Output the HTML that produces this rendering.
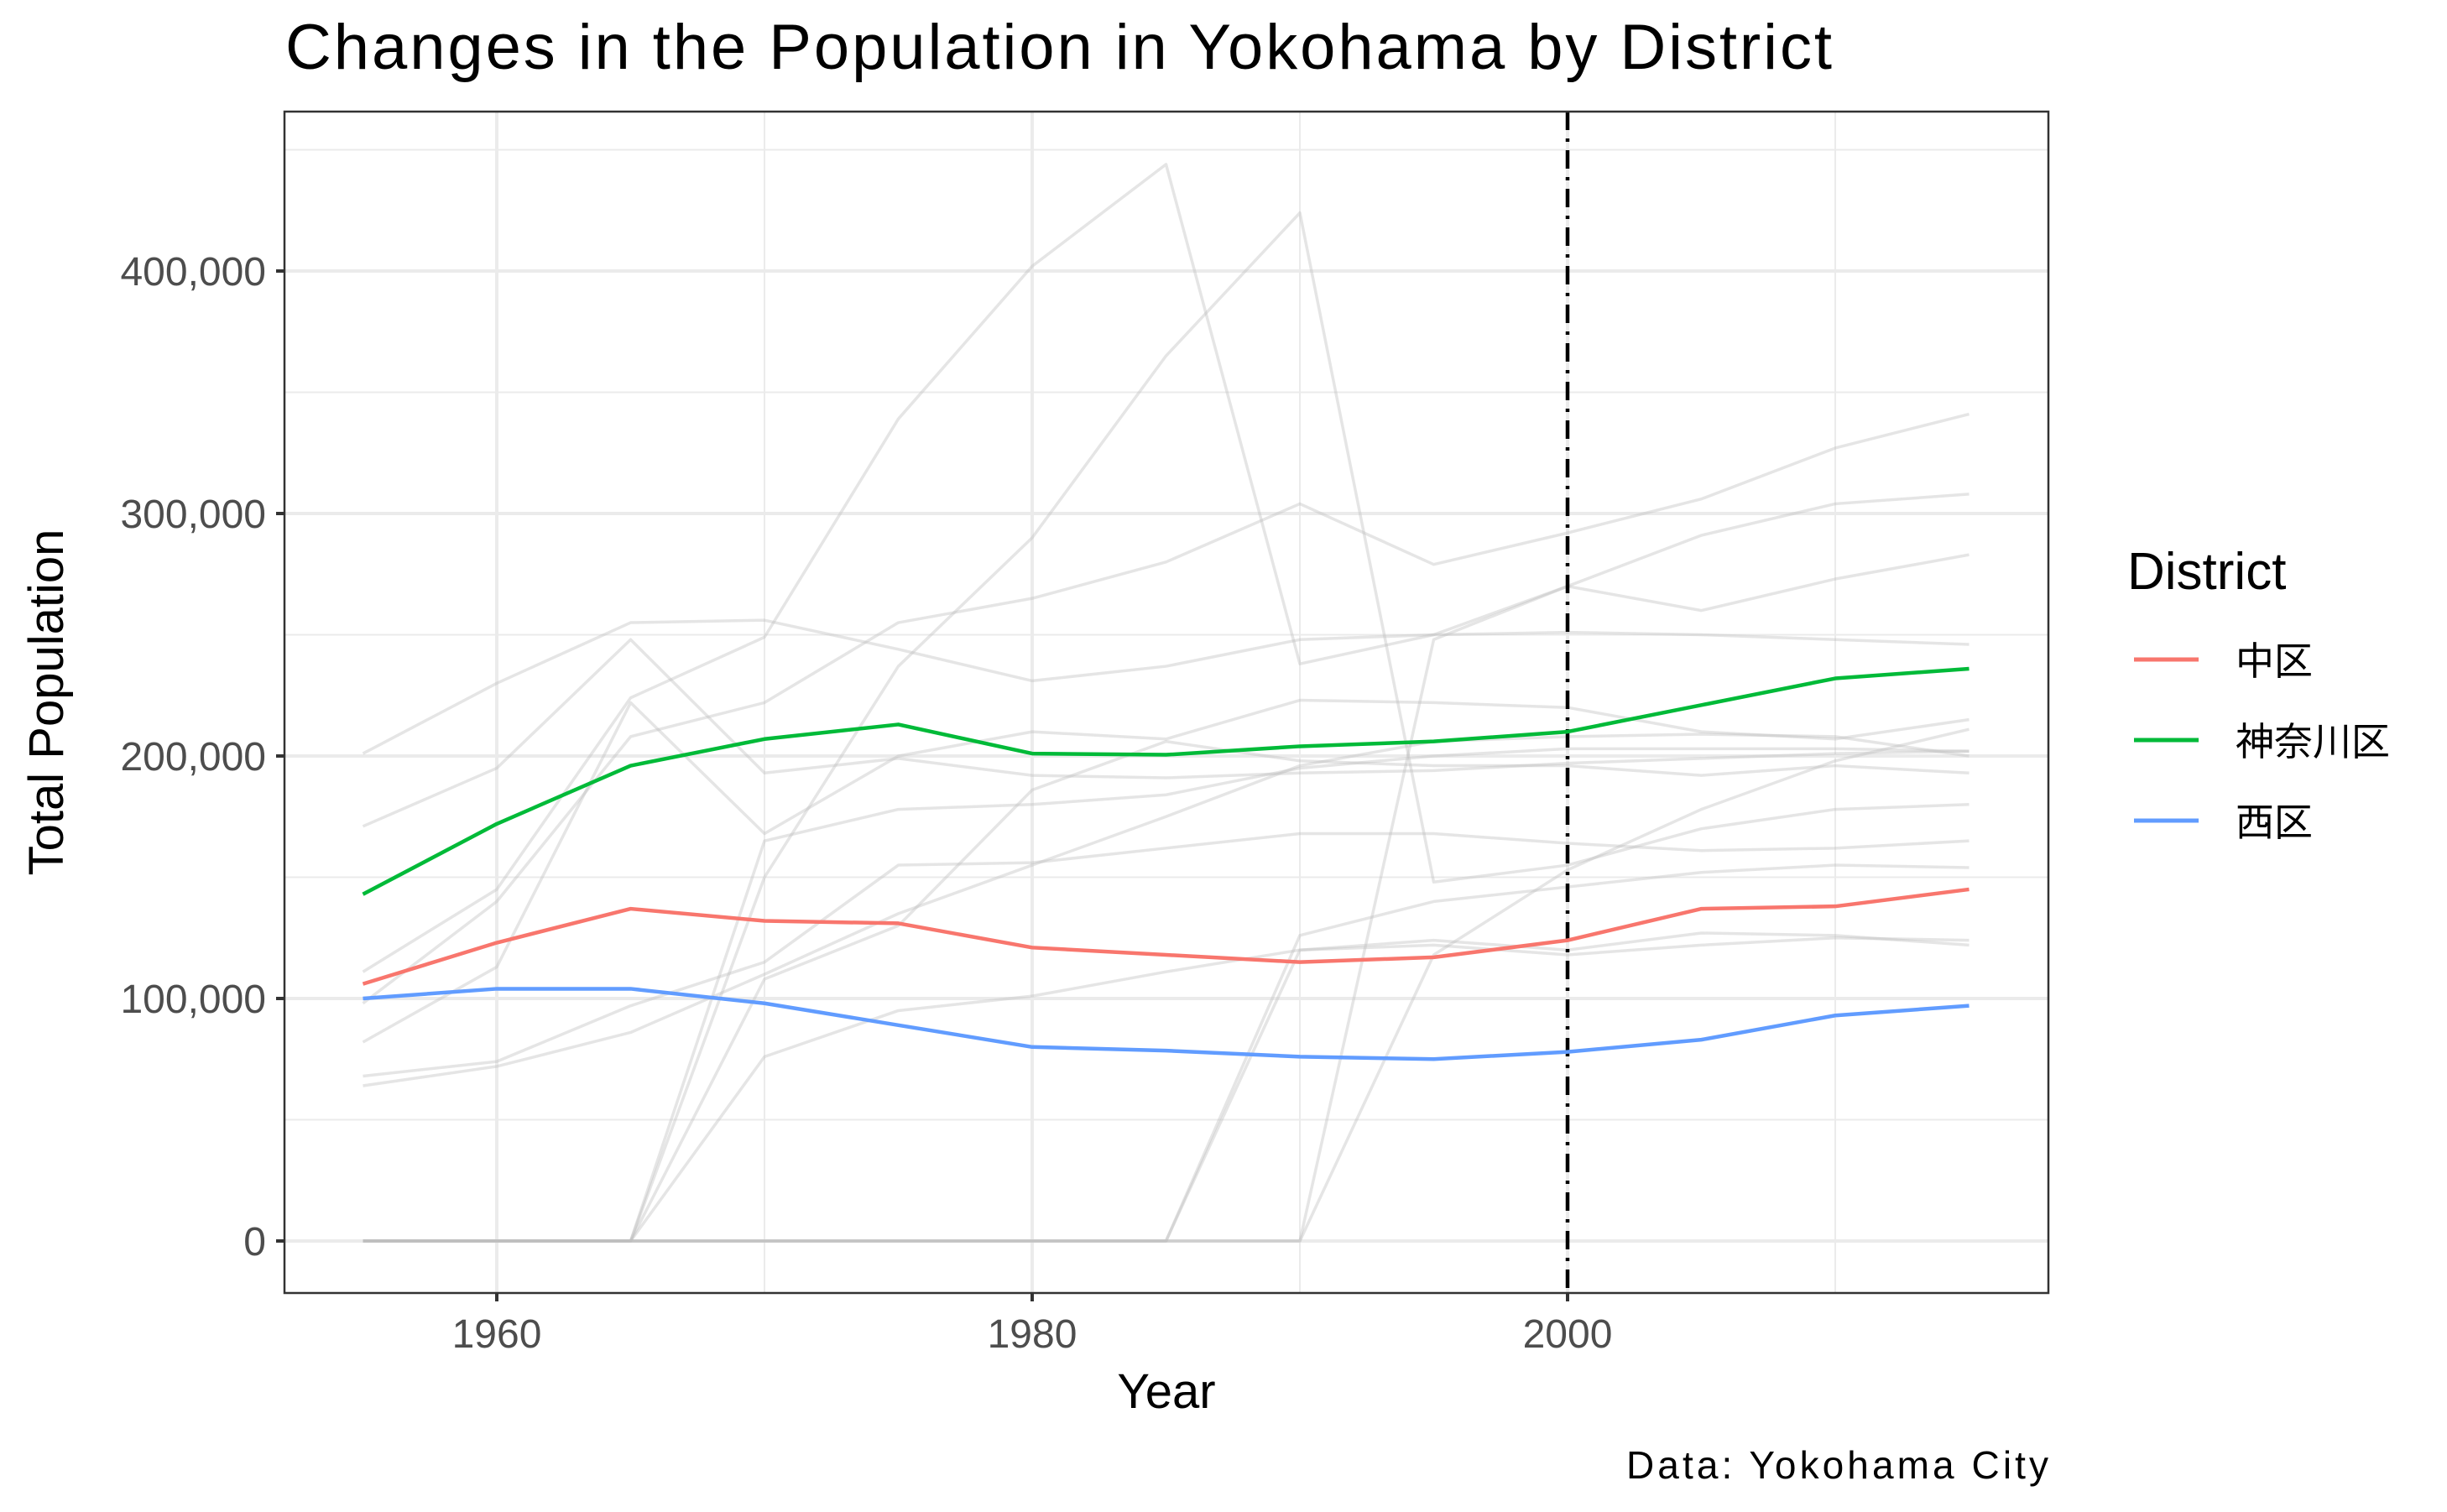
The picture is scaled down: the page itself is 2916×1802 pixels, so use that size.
<!DOCTYPE html>
<html><head><meta charset="utf-8"><style>
html,body{margin:0;padding:0;background:#fff;}
svg{display:block;font-family:"Liberation Sans","Noto Sans CJK JP",sans-serif;}
</style></head><body>
<svg id="chart" width="2916" height="1802" viewBox="0 0 2916 1802" xmlns="http://www.w3.org/2000/svg">
<rect width="2916" height="1802" fill="#fff"/>
<text x="340" y="82" font-size="76" fill="#000" textLength="1843" lengthAdjust="spacing">Changes in the Population in Yokohama by District</text>
<g id="grid"></g>
<g id="gray"></g>
<g id="vline"></g>
<g id="hl"></g>
<rect x="339" y="133" width="2102" height="1408" fill="none" stroke="#333" stroke-width="2.5"/>
<g id="axes"></g>
<text x="1390" y="1678" font-size="58" text-anchor="middle" fill="#000">Year</text>
<text transform="translate(75,837) rotate(-90)" font-size="58" text-anchor="middle" fill="#000">Total Population</text>
<text x="1938" y="1762" font-size="46" fill="#000" textLength="503" lengthAdjust="spacing">Data: Yokohama City</text>
<g>
<text x="2535" y="702" font-size="62" fill="#000">District</text>
<line x1="2543" y1="786" x2="2620" y2="786" stroke="#F8766D" stroke-width="5"/>
<text x="2664" y="788" font-size="46" dominant-baseline="central" fill="#000">中区</text>
<line x1="2543" y1="882" x2="2620" y2="882" stroke="#00BA38" stroke-width="5"/>
<text x="2664" y="884" font-size="46" dominant-baseline="central" fill="#000">神奈川区</text>
<line x1="2543" y1="978" x2="2620" y2="978" stroke="#619CFF" stroke-width="5"/>
<text x="2664" y="980" font-size="46" dominant-baseline="central" fill="#000">西区</text>
</g>
</svg>
<script>
const years = [1955,1960,1965,1970,1975,1980,1985,1990,1995,2000,2005,2010,2015];
const naka = [106,123,137,132,131,121,118,115,117,124,137,138,145];
const kanagawa = [143,172,196,207,213,201,200.5,204,206,210,221,232,236];
const nishi = [100,104,104,98,89,80,78.5,76,75,78,83,93,97];
const gray1 = [111,145,224,249,339,402,444,238,250,270,291,304,308];
const gray2 = [0,0,0,150,237,290,365,424,148,155,170,178,180];
const gray3 = [201,230,255,256,244,231,237,248,250,251,250,248,246];
const gray4 = [98,140,208,222,255,265,280,304,279,292,306,327,341];
const gray5 = [171,195,248,193,199,192,191,193,194,197,199,201,202];
const gray6 = [0,0,0,165,178,180,184,195,200,203,203,203,202];
const gray7 = [0,0,0,0,0,0,0,0,248,270,260,273,283];
const gray8 = [0,0,0,0,0,0,0,0,118,153,178,198,211];
const gray9 = [0,0,0,0,0,0,0,126,140,146,152,155,154];
const gray10 = [0,0,0,0,0,0,0,120,122,118,122,125,124];
const gray11 = [64,72,86,110,135,155,175,196,206,208,209,208,200];
const gray12 = [68,74,97,115,155,156,162,168,168,164,161,162,165];
const gray13 = [0,0,0,76,95,101,111,120,124,120,127,126,122];
const gray14 = [82,113,222,168,200,210,207,223,222,220,210,207,215];
const gray15 = [0,0,0,108,130,186,206,198,196,196,192,196,193];
const grayLines = [gray1,gray2,gray3,gray4,gray5,gray6,gray7,gray8,gray9,gray10,gray11,gray12,gray13,gray14,gray15];
const yTicks = [0,100000,200000,300000,400000];
const yTickLabels = ["0","100,000","200,000","300,000","400,000"];
const xTicks = [1960,1980,2000];
const xTickLabels = ["1960","1980","2000"];
const refYear = 2000;

const NS="http://www.w3.org/2000/svg";
const PL=339, PR=2441, PT=133, PB=1541;
function xs(y){return 592+(y-1960)*31.9;}
function ys(v){return 1479-v*0.00289;}
function mk(tag,attrs,parent){const e=document.createElementNS(NS,tag);for(const k in attrs)e.setAttribute(k,attrs[k]);parent.appendChild(e);return e;}
const grid=document.getElementById('grid');
for(let v=0;v<=450000;v+=50000){
  const major=v%100000===0;
  const l=mk('line',{x1:PL,x2:PR,y1:ys(v),y2:ys(v),stroke:'#ebebeb','stroke-width':major?4:2},grid);
  
  
}
for(let y=1950;y<=2020;y+=10){
  const major=y%20===0;
  const x=xs(y); if(x<PL||x>PR) continue;
  const l=mk('line',{x1:x,x2:x,y1:PT,y2:PB,stroke:'#ebebeb','stroke-width':major?4:2},grid);
  
  
}
function pts(arr){return arr.map((v,i)=>xs(years[i])+','+ys(v*1000)).join(' ');}
const gray=document.getElementById('gray');
grayLines.forEach((arr,i)=>{
  const p=mk('polyline',{points:pts(arr),fill:'none',stroke:'rgb(190,190,190)','stroke-opacity':0.4,'stroke-width':3.5,'stroke-linejoin':'round'},gray);
  
  
});
const vg=document.getElementById('vline');
const vl=mk('line',{x1:xs(refYear),x2:xs(refYear),y1:PT,y2:PB,stroke:'#000','stroke-width':4.5,'stroke-dasharray':'22 10 4 10'},vg);


const hl=document.getElementById('hl');
[[naka,'#F8766D','naka-line'],[kanagawa,'#00BA38','kanagawa-line'],[nishi,'#619CFF','nishi-line']].forEach(s=>{
  const p=mk('polyline',{points:pts(s[0]),fill:'none',stroke:s[1],'stroke-width':4.5,'stroke-linejoin':'round'},hl);
  
  
});
const ax=document.getElementById('axes');
yTicks.forEach((v,i)=>{
  const t=mk('line',{x1:PL-10,x2:PL,y1:ys(v),y2:ys(v),stroke:'#333','stroke-width':4},ax);
  
  
  const tx=mk('text',{x:PL-22,y:ys(v)+17,'font-size':48,'text-anchor':'end',fill:'#4d4d4d'},ax);
  tx.textContent=yTickLabels[i];
  
  
});
xTicks.forEach((y,i)=>{
  const t=mk('line',{x1:xs(y),x2:xs(y),y1:PB,y2:PB+10,stroke:'#333','stroke-width':4},ax);
  
  
  const tx=mk('text',{x:xs(y),y:1606,'font-size':48,'text-anchor':'middle',fill:'#4d4d4d'},ax);
  tx.textContent=xTickLabels[i];
  
  
});
</script>
</body></html>
